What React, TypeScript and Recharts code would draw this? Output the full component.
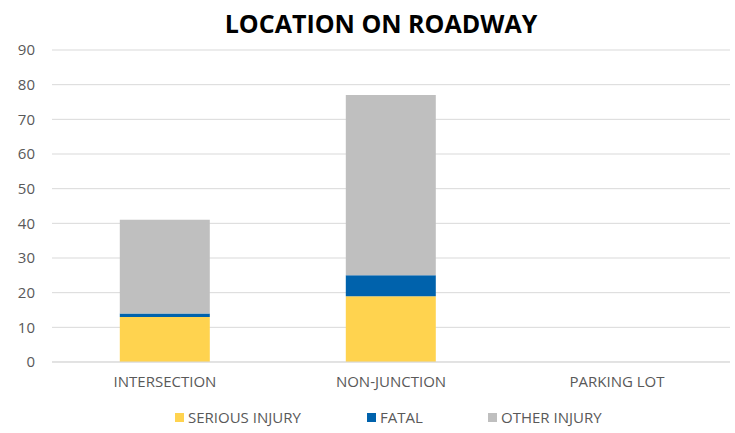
import { BarChart, Bar, XAxis, YAxis, CartesianGrid, Legend } from 'recharts';

const locations = ['INTERSECTION', 'NON-JUNCTION', 'PARKING LOT'];
const seriousInjury = [13, 19, 0];
const fatal = [1, 6, 0];
const otherInjury = [27, 52, 0];
const yTicks = [0, 10, 20, 30, 40, 50, 60, 70, 80, 90];

const data = locations.map((location, i) => ({
  location,
  serious: seriousInjury[i],
  fatal: fatal[i],
  other: otherInjury[i],
}));

const FONT = '"Open Sans", Lato, sans-serif';

const legendItems = [
  { label: 'SERIOUS INJURY', color: '#FFD34F', left: 175 },
  { label: 'FATAL', color: '#0062AC', left: 367 },
  { label: 'OTHER INJURY', color: '#BFBFBF', left: 488 },
];

// Excel-style legend, laid out in the original order
const renderLegend = () => (
  <div style={{ position: 'relative', width: 735, height: 20 }}>
    {legendItems.map((item) => (
      <div
        key={item.label}
        style={{ position: 'absolute', left: item.left, top: 0, display: 'flex', alignItems: 'center', height: 20 }}
      >
        <span style={{ width: 9, height: 9, background: item.color, marginRight: 4 }} />
        <span style={{ color: '#595959', fontSize: 15, fontFamily: FONT }}>{item.label}</span>
      </div>
    ))}
  </div>
);

export default function App() {
  return (
    <div style={{ position: 'absolute', left: 0, top: 0, width: 735, height: 433, background: '#fff', fontFamily: FONT }}>
      <div
        style={{
          position: 'absolute',
          left: 0,
          width: 762,
          top: 6,
          textAlign: 'center',
          fontSize: 25,
          fontWeight: 700,
          color: '#000',
          zIndex: 2,
        }}
      >
        LOCATION ON ROADWAY
      </div>
      <BarChart
        width={735}
        height={433}
        data={data}
        margin={{ top: 50, right: 5, bottom: 21, left: 0 }}
        barCategoryGap="30%"
      >
        <CartesianGrid vertical={false} stroke="#d9d9d9" strokeWidth={1} />
        <XAxis
          dataKey="location"
          height={30}
          axisLine={{ stroke: '#d9d9d9' }}
          tickLine={false}
          tick={{ fill: '#595959', fontSize: 15, fontFamily: FONT }}
          tickMargin={8}
        />
        <YAxis
          width={52}
          domain={[0, 90]}
          ticks={yTicks}
          axisLine={false}
          tickLine={false}
          tick={{ fill: '#595959', fontSize: 15, fontFamily: FONT }}
          tickMargin={11}
        />
        <Legend
          verticalAlign="bottom"
          height={20}
          content={renderLegend}
          wrapperStyle={{ left: 0, bottom: 6, width: 735 }}
        />
        <Bar dataKey="serious" name="SERIOUS INJURY" stackId="a" fill="#FFD34F" isAnimationActive={false} />
        <Bar dataKey="fatal" name="FATAL" stackId="a" fill="#0062AC" isAnimationActive={false} />
        <Bar dataKey="other" name="OTHER INJURY" stackId="a" fill="#BFBFBF" isAnimationActive={false} />
      </BarChart>
    </div>
  );
}
